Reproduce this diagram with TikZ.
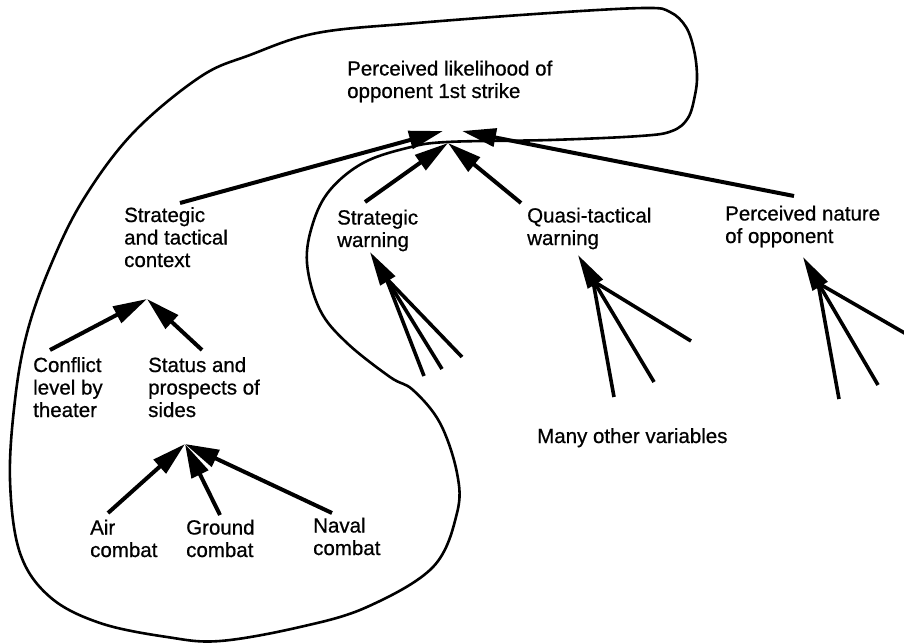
\documentclass[tikz,border=0pt]{standalone}
\usepackage{fontspec}
\setmainfont{Liberation Sans}[FakeBold=0.7]
\usetikzlibrary{arrows.meta}
\begin{document}
\begin{tikzpicture}[x=1pt,y=-1pt,
  label/.style={anchor=base west, align=left, inner sep=0pt,
                font=\fontsize{20.5}{22.5}\selectfont},
  link/.style={line width=4pt, -{Triangle[length=34pt,width=18pt]}},
  feed/.style={line width=3.6pt},
  feedhead/.style={line width=3.6pt, -{Triangle[length=34pt,width=17pt]}},
  boundary/.style={line width=2.6pt, line join=round}]
\useasboundingbox (0,0) rectangle (904,644);
\clip (0,0) rectangle (904,644);

% boundary enclosing the model's core variables
\draw[boundary] plot[smooth cycle, tension=0.6] coordinates {
  (447,142) (550,140) (640,136) (672,131) (688,118) (695,95) (697,75)
  (694,50) (686,27) (670,12) (645,8) (550,13) (417,23) (317,33)
  (250,55) (200,77) (133,133) (83,200) (50,267) (27,333) (15,400)
  (10,480) (20,553) (50,597) (100,623) (167,637) (220,641) (300,627)
  (367,607) (433,567) (457,513) (457,473) (440,423) (413,390) (390,377)
  (347,343) (320,310) (307,263) (313,223) (330,190) (363,163) (407,148)};

% variables (each placed at the baseline of its last line)
\node[label] (title) at (347,98) {Perceived likelihood of\\opponent 1st strike};
\node[label] (ctx) at (124,267) {Strategic\\and tactical\\context};
\node[label] (sw) at (337,247) {Strategic\\warning};
\node[label] (qtw) at (527,245) {Quasi-tactical\\warning};
\node[label] (nat) at (725,243) {Perceived nature\\of opponent};
\node[label] (conf) at (33,417) {Conflict\\level by\\theater};
\node[label] (stat) at (148,417) {Status and\\prospects of\\sides};
\node[label] (air) at (90,557) {Air\\combat};
\node[label] (gnd) at (186,557) {Ground\\combat};
\node[label] (nav) at (313,555) {Naval\\combat};
\node[label] (many) at (537,443) {Many other variables};

% connector end points
\coordinate (title-a) at (443,131);
\coordinate (title-b) at (462,131);
\coordinate (title-c) at (448,143);
\coordinate (ctx-out) at (180,203);
\coordinate (sw-out) at (365,202);
\coordinate (qtw-out) at (521,203);
\coordinate (nat-out) at (794,196);
\coordinate (ctx-in) at (147,299);
\coordinate (conf-out) at (50,350);
\coordinate (stat-out) at (202,350);
\coordinate (stat-in) at (185,444);
\coordinate (air-out) at (108,513);
\coordinate (gnd-out) at (220,515);
\coordinate (nav-out) at (332,513);

% influences on the perceived likelihood
\draw[link] (ctx-out) -- (title-a);
\draw[link] (nat-out) -- (title-b);
\draw[link] (sw-out) -- (title-c);
\draw[link] (qtw-out) -- (title-c);

% context inputs
\draw[link] (conf-out) -- (ctx-in);
\draw[link] (stat-out) -- (ctx-in);
\draw[link] (air-out) -- (stat-in);
\draw[link] (gnd-out) -- (stat-in);
\draw[link] (nav-out) -- (stat-in);

% fans of other variables
\coordinate (sw-in) at (370,252);
\coordinate (sw-hub) at (386,278);
\coordinate (sw-f1) at (424,376);
\coordinate (sw-f2) at (442,369);
\coordinate (sw-f3) at (462,357);
\draw[feedhead] (sw-f2) -- (sw-in);
\draw[feed] (sw-f1) -- (sw-hub);
\draw[feed] (sw-f3) -- (sw-hub);

\coordinate (qtw-in) at (578,255);
\coordinate (qtw-hub) at (593,281);
\coordinate (qtw-f1) at (614,397);
\coordinate (qtw-f2) at (654,382);
\coordinate (qtw-f3) at (691,341);
\draw[feedhead] (qtw-f2) -- (qtw-in);
\draw[feed] (qtw-f1) -- (qtw-hub);
\draw[feed] (qtw-f3) -- (qtw-hub);

\coordinate (nat-in) at (803,257);
\coordinate (nat-hub) at (818,283);
\coordinate (nat-f1) at (839,399);
\coordinate (nat-f2) at (878,385);
\coordinate (nat-f3) at (908,335);
\draw[feedhead] (nat-f2) -- (nat-in);
\draw[feed] (nat-f1) -- (nat-hub);
\draw[feed] (nat-f3) -- (nat-hub);
\end{tikzpicture}
\end{document}
